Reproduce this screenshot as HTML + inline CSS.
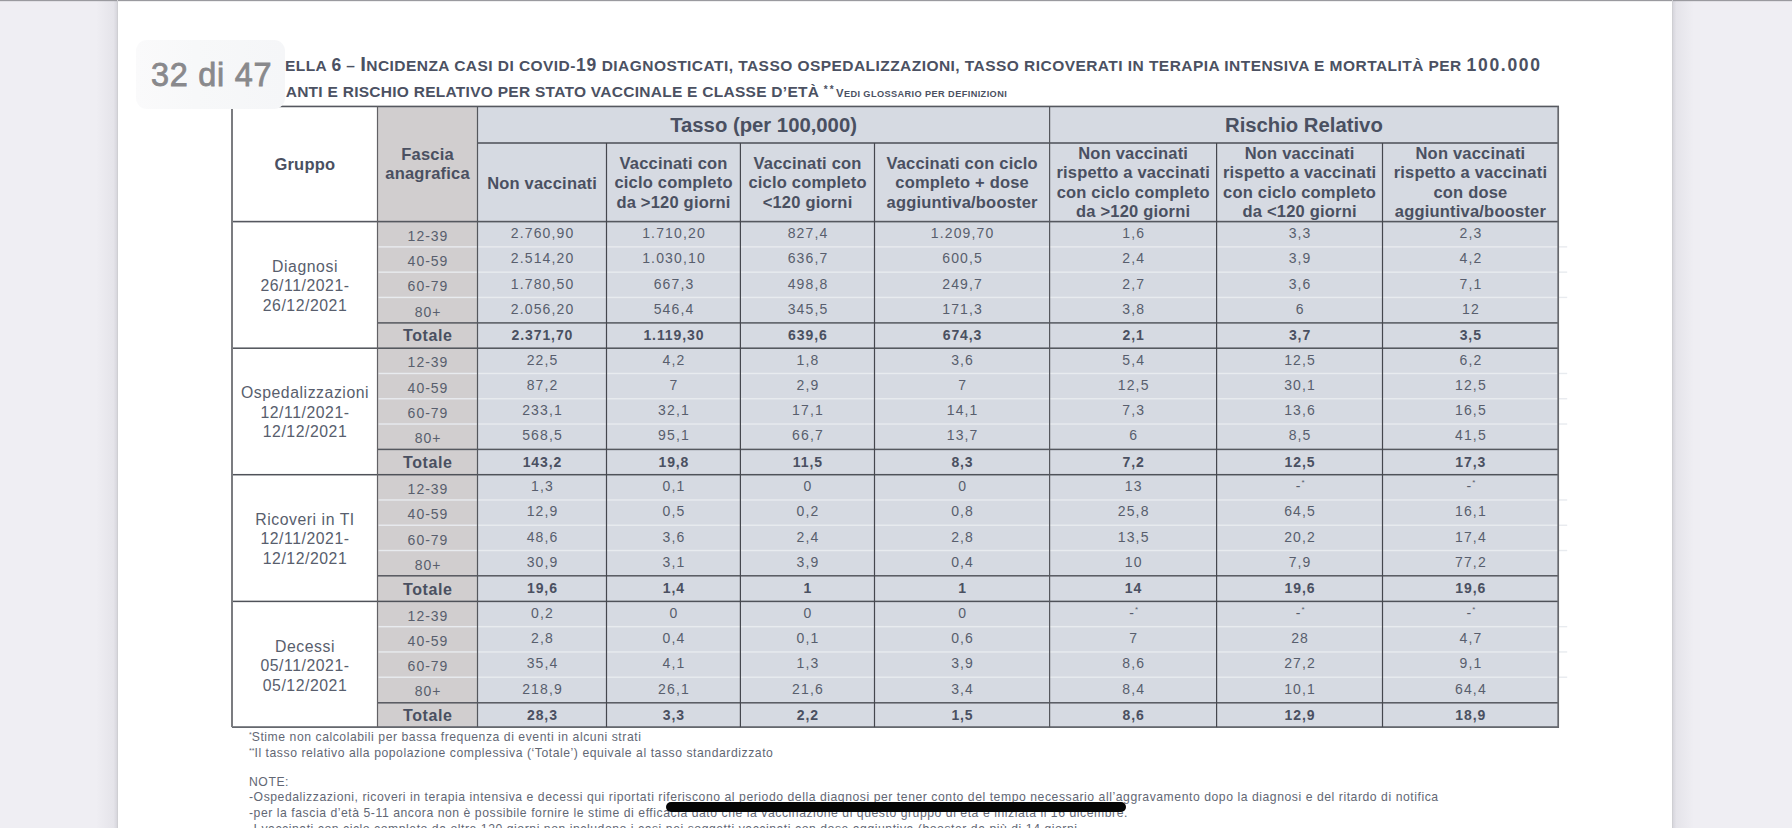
<!DOCTYPE html>
<html><head><meta charset="utf-8">
<style>
html,body{margin:0;padding:0;}
body{width:1792px;height:828px;overflow:hidden;position:relative;background:#efeef3;font-family:"Liberation Sans",sans-serif;}
.a{position:absolute;}
.t{position:absolute;text-align:center;white-space:nowrap;color:#585e6d;}
.hb,.hh,.ab,.nb{font-weight:bold;color:#4a5061;}
.hb{font-size:16.5px;line-height:19.5px;letter-spacing:0.2px;}
.hh{font-size:20.3px;line-height:24px;letter-spacing:0.0px;}
.gl{font-size:15.8px;line-height:19.5px;letter-spacing:0.55px;}
.ag{font-size:14px;line-height:20px;letter-spacing:1.0px;}
.ab{font-size:16px;line-height:20px;letter-spacing:0.6px;}
.nm{font-size:14px;line-height:20px;letter-spacing:1.14px;}
.nb{font-size:14px;line-height:20px;letter-spacing:0.9px;}
sup{font-size:8px;vertical-align:6px;line-height:0;letter-spacing:0;}
#page{position:absolute;left:118px;top:0;width:1554px;height:828px;background:#fff;}
#shl{position:absolute;left:96px;top:0;width:22px;height:828px;background:linear-gradient(to right,rgba(0,0,0,0),rgba(40,40,60,0.05) 80%,rgba(40,40,60,0.14));}
#shr{position:absolute;left:1672px;top:0;width:22px;height:828px;background:linear-gradient(to left,rgba(0,0,0,0),rgba(40,40,60,0.05) 80%,rgba(40,40,60,0.14));}
#topline{position:absolute;left:0;top:0;width:1792px;height:1px;background:#9a9a9f;}
#topline2{position:absolute;left:0;top:1px;width:1792px;height:1px;background:rgba(120,120,130,0.12);}
#edgel{position:absolute;left:117px;top:0;width:1px;height:828px;background:#cfcfd3;}
#edger{position:absolute;left:1672px;top:0;width:1px;height:828px;background:#cfcfd3;}
.ttl{position:absolute;left:248.7px;white-space:nowrap;font-weight:bold;color:#4b5162;font-size:15.5px;line-height:20px;letter-spacing:0.27px;}
#t1{letter-spacing:0.45px;}
.ttl .L{font-size:20.5px;line-height:0;}
.ttl .L2{font-size:17.5px;letter-spacing:1.7px;line-height:0;}
.ttl .s{font-size:9.2px;letter-spacing:0.4px;}
.ttl .s .L{font-size:11.3px;line-height:0;}
.ast{font-size:10px;vertical-align:4.5px;line-height:0;letter-spacing:2.2px;}
#ov{position:absolute;left:136px;top:40px;width:148.8px;height:69px;border-radius:11px;background:linear-gradient(to right,#fafafb,#f7f8f9 40%,#f5f6f8);}
#ovt{position:absolute;left:151px;top:55.07px;line-height:40px;font-size:32.4px;color:#89898c;-webkit-text-stroke:0.8px #89898c;letter-spacing:0.75px;white-space:nowrap;}
.ft{position:absolute;left:249px;white-space:nowrap;font-size:12.2px;line-height:15px;letter-spacing:0.55px;color:#626774;}
.ft sup{font-size:7px;vertical-align:4px;}
#bar{position:absolute;left:666px;top:801.5px;width:460px;height:10px;border-radius:5px;background:#050505;}
</style></head><body>
<div id="shl"></div><div id="shr"></div>
<div id="page"></div>
<div id="topline"></div><div id="topline2"></div><div id="edgel"></div><div id="edger"></div>
<div class="ttl" id="t1" style="top:55.63px"><span style="visibility:hidden"><span class="L">T</span>AB</span>ELLA <span class="L2" style="letter-spacing:0.4px">6</span> – <span class="L">I</span>NCIDENZA CASI DI COVID-<span class="L2" style="letter-spacing:0.8px">19</span> DIAGNOSTICATI, TASSO OSPEDALIZZAZIONI, TASSO RICOVERATI IN TERAPIA INTENSIVA E MORTALITÀ PER <span class="L2">100.000</span></div>
<div class="ttl" style="top:82.03px;left:249.6px"><span style="visibility:hidden">ABIT</span>ANTI E RISCHIO RELATIVO PER STATO VACCINALE E CLASSE D’ETÀ <span class="s"><span class="ast">**</span><span class="L">V</span>EDI GLOSSARIO PER DEFINIZIONI</span></div>
<svg class="a" style="left:0;top:0" width="1792" height="828" viewBox="0 0 1792 828"><rect x="377.50" y="106.45" width="100.00" height="620.65" fill="#d1cecf"/><rect x="477.50" y="106.45" width="1080.70" height="620.65" fill="#d6dae2"/><rect x="378.50" y="246.18" width="1188.70" height="1.40" fill="#e8ebef"/><rect x="378.50" y="271.45" width="1188.70" height="1.40" fill="#e8ebef"/><rect x="378.50" y="296.72" width="1188.70" height="1.40" fill="#e8ebef"/><rect x="378.50" y="372.77" width="1188.70" height="1.40" fill="#e8ebef"/><rect x="378.50" y="398.05" width="1188.70" height="1.40" fill="#e8ebef"/><rect x="378.50" y="423.32" width="1188.70" height="1.40" fill="#e8ebef"/><rect x="378.50" y="499.27" width="1188.70" height="1.40" fill="#e8ebef"/><rect x="378.50" y="524.55" width="1188.70" height="1.40" fill="#e8ebef"/><rect x="378.50" y="549.82" width="1188.70" height="1.40" fill="#e8ebef"/><rect x="378.50" y="625.97" width="1188.70" height="1.40" fill="#e8ebef"/><rect x="378.50" y="651.25" width="1188.70" height="1.40" fill="#e8ebef"/><rect x="378.50" y="676.52" width="1188.70" height="1.40" fill="#e8ebef"/><rect x="232.00" y="105.65" width="1327.00" height="1.60" fill="#55585f"/><rect x="477.50" y="142.20" width="1080.70" height="1.60" fill="#55585f"/><rect x="232.00" y="220.80" width="1326.20" height="1.60" fill="#55585f"/><rect x="232.00" y="347.45" width="1326.20" height="1.50" fill="#4f5259"/><rect x="232.00" y="473.95" width="1326.20" height="1.50" fill="#4f5259"/><rect x="232.00" y="600.65" width="1326.20" height="1.50" fill="#4f5259"/><rect x="377.50" y="322.15" width="1180.70" height="1.50" fill="#55585f"/><rect x="377.50" y="448.65" width="1180.70" height="1.50" fill="#55585f"/><rect x="377.50" y="575.05" width="1180.70" height="1.50" fill="#55585f"/><rect x="377.50" y="702.05" width="1180.70" height="1.50" fill="#55585f"/><rect x="232.00" y="726.30" width="1327.00" height="1.60" fill="#55585f"/><rect x="231.00" y="106.45" width="2.00" height="620.65" fill="#7b7c80"/><rect x="1557.35" y="106.45" width="1.70" height="621.45" fill="#66686d"/><rect x="376.90" y="106.45" width="1.20" height="620.65" fill="#626165"/><rect x="476.90" y="106.45" width="1.20" height="620.65" fill="#55575d"/><rect x="1049.00" y="106.45" width="1.20" height="620.65" fill="#55575d"/><rect x="605.90" y="143.00" width="1.20" height="584.10" fill="#45474e"/><rect x="739.80" y="143.00" width="1.20" height="584.10" fill="#45474e"/><rect x="873.90" y="143.00" width="1.20" height="584.10" fill="#45474e"/><rect x="1216.00" y="143.00" width="1.20" height="584.10" fill="#45474e"/><rect x="1381.90" y="143.00" width="1.20" height="584.10" fill="#45474e"/></svg>
<div class="t hb" style="left:232.10px;top:154.53px;width:145.50px;">Gruppo</div>
<div class="t hb" style="left:377.60px;top:145.13px;width:100.00px;">Fascia</div>
<div class="t hb" style="left:377.60px;top:164.13px;width:100.00px;">anagrafica</div>
<div class="t hh" style="left:477.50px;top:112.57px;width:572.10px;">Tasso (per 100,000)</div>
<div class="t hh" style="left:1049.60px;top:112.57px;width:508.60px;">Rischio Relativo</div>
<div class="t hb" style="left:477.60px;top:173.53px;width:129.00px;">Non vaccinati</div>
<div class="t hb" style="left:606.60px;top:153.73px;width:133.90px;">Vaccinati con</div>
<div class="t hb" style="left:606.60px;top:173.33px;width:133.90px;">ciclo completo</div>
<div class="t hb" style="left:606.60px;top:192.93px;width:133.90px;">da &gt;120 giorni</div>
<div class="t hb" style="left:740.50px;top:153.73px;width:134.10px;">Vaccinati con</div>
<div class="t hb" style="left:740.50px;top:173.33px;width:134.10px;">ciclo completo</div>
<div class="t hb" style="left:740.50px;top:192.93px;width:134.10px;">&lt;120 giorni</div>
<div class="t hb" style="left:874.60px;top:153.73px;width:175.10px;">Vaccinati con ciclo</div>
<div class="t hb" style="left:874.60px;top:173.33px;width:175.10px;">completo + dose</div>
<div class="t hb" style="left:874.60px;top:192.93px;width:175.10px;">aggiuntiva/booster</div>
<div class="t hb" style="left:1049.70px;top:143.93px;width:167.00px;">Non vaccinati</div>
<div class="t hb" style="left:1049.70px;top:163.33px;width:167.00px;">rispetto a vaccinati</div>
<div class="t hb" style="left:1049.70px;top:182.73px;width:167.00px;">con ciclo completo</div>
<div class="t hb" style="left:1049.70px;top:202.13px;width:167.00px;">da &gt;120 giorni</div>
<div class="t hb" style="left:1216.70px;top:143.93px;width:165.90px;">Non vaccinati</div>
<div class="t hb" style="left:1216.70px;top:163.33px;width:165.90px;">rispetto a vaccinati</div>
<div class="t hb" style="left:1216.70px;top:182.73px;width:165.90px;">con ciclo completo</div>
<div class="t hb" style="left:1216.70px;top:202.13px;width:165.90px;">da &lt;120 giorni</div>
<div class="t hb" style="left:1382.60px;top:143.93px;width:175.70px;">Non vaccinati</div>
<div class="t hb" style="left:1382.60px;top:163.33px;width:175.70px;">rispetto a vaccinati</div>
<div class="t hb" style="left:1382.60px;top:182.73px;width:175.70px;">con dose</div>
<div class="t hb" style="left:1382.60px;top:202.13px;width:175.70px;">aggiuntiva/booster</div>
<div class="t gl" style="left:232.28px;top:256.88px;width:145.50px;">Diagnosi</div>
<div class="t gl" style="left:232.28px;top:276.38px;width:145.50px;">26/11/2021-</div>
<div class="t gl" style="left:232.28px;top:295.88px;width:145.50px;">26/12/2021</div>
<div class="t ag" style="left:378.00px;top:225.85px;width:100.00px;">12-39</div>
<div class="t nm" style="left:478.07px;top:223.05px;width:129.00px;">2.760,90</div>
<div class="t nm" style="left:607.07px;top:223.05px;width:133.90px;">1.710,20</div>
<div class="t nm" style="left:740.97px;top:223.05px;width:134.10px;">827,4</div>
<div class="t nm" style="left:875.07px;top:223.05px;width:175.10px;">1.209,70</div>
<div class="t nm" style="left:1050.17px;top:223.05px;width:167.00px;">1,6</div>
<div class="t nm" style="left:1217.17px;top:223.05px;width:165.90px;">3,3</div>
<div class="t nm" style="left:1383.07px;top:223.05px;width:175.70px;">2,3</div>
<div class="t ag" style="left:378.00px;top:251.12px;width:100.00px;">40-59</div>
<div class="t nm" style="left:478.07px;top:248.32px;width:129.00px;">2.514,20</div>
<div class="t nm" style="left:607.07px;top:248.32px;width:133.90px;">1.030,10</div>
<div class="t nm" style="left:740.97px;top:248.32px;width:134.10px;">636,7</div>
<div class="t nm" style="left:875.07px;top:248.32px;width:175.10px;">600,5</div>
<div class="t nm" style="left:1050.17px;top:248.32px;width:167.00px;">2,4</div>
<div class="t nm" style="left:1217.17px;top:248.32px;width:165.90px;">3,9</div>
<div class="t nm" style="left:1383.07px;top:248.32px;width:175.70px;">4,2</div>
<div class="t ag" style="left:378.00px;top:276.40px;width:100.00px;">60-79</div>
<div class="t nm" style="left:478.07px;top:273.60px;width:129.00px;">1.780,50</div>
<div class="t nm" style="left:607.07px;top:273.60px;width:133.90px;">667,3</div>
<div class="t nm" style="left:740.97px;top:273.60px;width:134.10px;">498,8</div>
<div class="t nm" style="left:875.07px;top:273.60px;width:175.10px;">249,7</div>
<div class="t nm" style="left:1050.17px;top:273.60px;width:167.00px;">2,7</div>
<div class="t nm" style="left:1217.17px;top:273.60px;width:165.90px;">3,6</div>
<div class="t nm" style="left:1383.07px;top:273.60px;width:175.70px;">7,1</div>
<div class="t ag" style="left:378.00px;top:301.67px;width:100.00px;">80+</div>
<div class="t nm" style="left:478.07px;top:298.87px;width:129.00px;">2.056,20</div>
<div class="t nm" style="left:607.07px;top:298.87px;width:133.90px;">546,4</div>
<div class="t nm" style="left:740.97px;top:298.87px;width:134.10px;">345,5</div>
<div class="t nm" style="left:875.07px;top:298.87px;width:175.10px;">171,3</div>
<div class="t nm" style="left:1050.17px;top:298.87px;width:167.00px;">3,8</div>
<div class="t nm" style="left:1217.17px;top:298.87px;width:165.90px;">6</div>
<div class="t nm" style="left:1383.07px;top:298.87px;width:175.70px;">12</div>
<div class="t ab" style="left:377.80px;top:326.46px;width:100.00px;">Totale</div>
<div class="t nb" style="left:477.95px;top:325.25px;width:129.00px;">2.371,70</div>
<div class="t nb" style="left:606.95px;top:325.25px;width:133.90px;">1.119,30</div>
<div class="t nb" style="left:740.85px;top:325.25px;width:134.10px;">639,6</div>
<div class="t nb" style="left:874.95px;top:325.25px;width:175.10px;">674,3</div>
<div class="t nb" style="left:1050.05px;top:325.25px;width:167.00px;">2,1</div>
<div class="t nb" style="left:1217.05px;top:325.25px;width:165.90px;">3,7</div>
<div class="t nb" style="left:1382.95px;top:325.25px;width:175.70px;">3,5</div>
<div class="t gl" style="left:232.28px;top:383.48px;width:145.50px;">Ospedalizzazioni</div>
<div class="t gl" style="left:232.28px;top:402.98px;width:145.50px;">12/11/2021-</div>
<div class="t gl" style="left:232.28px;top:422.48px;width:145.50px;">12/12/2021</div>
<div class="t ag" style="left:378.00px;top:352.45px;width:100.00px;">12-39</div>
<div class="t nm" style="left:478.07px;top:349.65px;width:129.00px;">22,5</div>
<div class="t nm" style="left:607.07px;top:349.65px;width:133.90px;">4,2</div>
<div class="t nm" style="left:740.97px;top:349.65px;width:134.10px;">1,8</div>
<div class="t nm" style="left:875.07px;top:349.65px;width:175.10px;">3,6</div>
<div class="t nm" style="left:1050.17px;top:349.65px;width:167.00px;">5,4</div>
<div class="t nm" style="left:1217.17px;top:349.65px;width:165.90px;">12,5</div>
<div class="t nm" style="left:1383.07px;top:349.65px;width:175.70px;">6,2</div>
<div class="t ag" style="left:378.00px;top:377.72px;width:100.00px;">40-59</div>
<div class="t nm" style="left:478.07px;top:374.92px;width:129.00px;">87,2</div>
<div class="t nm" style="left:607.07px;top:374.92px;width:133.90px;">7</div>
<div class="t nm" style="left:740.97px;top:374.92px;width:134.10px;">2,9</div>
<div class="t nm" style="left:875.07px;top:374.92px;width:175.10px;">7</div>
<div class="t nm" style="left:1050.17px;top:374.92px;width:167.00px;">12,5</div>
<div class="t nm" style="left:1217.17px;top:374.92px;width:165.90px;">30,1</div>
<div class="t nm" style="left:1383.07px;top:374.92px;width:175.70px;">12,5</div>
<div class="t ag" style="left:378.00px;top:403.00px;width:100.00px;">60-79</div>
<div class="t nm" style="left:478.07px;top:400.20px;width:129.00px;">233,1</div>
<div class="t nm" style="left:607.07px;top:400.20px;width:133.90px;">32,1</div>
<div class="t nm" style="left:740.97px;top:400.20px;width:134.10px;">17,1</div>
<div class="t nm" style="left:875.07px;top:400.20px;width:175.10px;">14,1</div>
<div class="t nm" style="left:1050.17px;top:400.20px;width:167.00px;">7,3</div>
<div class="t nm" style="left:1217.17px;top:400.20px;width:165.90px;">13,6</div>
<div class="t nm" style="left:1383.07px;top:400.20px;width:175.70px;">16,5</div>
<div class="t ag" style="left:378.00px;top:428.27px;width:100.00px;">80+</div>
<div class="t nm" style="left:478.07px;top:425.47px;width:129.00px;">568,5</div>
<div class="t nm" style="left:607.07px;top:425.47px;width:133.90px;">95,1</div>
<div class="t nm" style="left:740.97px;top:425.47px;width:134.10px;">66,7</div>
<div class="t nm" style="left:875.07px;top:425.47px;width:175.10px;">13,7</div>
<div class="t nm" style="left:1050.17px;top:425.47px;width:167.00px;">6</div>
<div class="t nm" style="left:1217.17px;top:425.47px;width:165.90px;">8,5</div>
<div class="t nm" style="left:1383.07px;top:425.47px;width:175.70px;">41,5</div>
<div class="t ab" style="left:377.80px;top:453.06px;width:100.00px;">Totale</div>
<div class="t nb" style="left:477.95px;top:451.85px;width:129.00px;">143,2</div>
<div class="t nb" style="left:606.95px;top:451.85px;width:133.90px;">19,8</div>
<div class="t nb" style="left:740.85px;top:451.85px;width:134.10px;">11,5</div>
<div class="t nb" style="left:874.95px;top:451.85px;width:175.10px;">8,3</div>
<div class="t nb" style="left:1050.05px;top:451.85px;width:167.00px;">7,2</div>
<div class="t nb" style="left:1217.05px;top:451.85px;width:165.90px;">12,5</div>
<div class="t nb" style="left:1382.95px;top:451.85px;width:175.70px;">17,3</div>
<div class="t gl" style="left:232.28px;top:509.98px;width:145.50px;">Ricoveri in TI</div>
<div class="t gl" style="left:232.28px;top:529.48px;width:145.50px;">12/11/2021-</div>
<div class="t gl" style="left:232.28px;top:548.98px;width:145.50px;">12/12/2021</div>
<div class="t ag" style="left:378.00px;top:478.95px;width:100.00px;">12-39</div>
<div class="t nm" style="left:478.07px;top:476.15px;width:129.00px;">1,3</div>
<div class="t nm" style="left:607.07px;top:476.15px;width:133.90px;">0,1</div>
<div class="t nm" style="left:740.97px;top:476.15px;width:134.10px;">0</div>
<div class="t nm" style="left:875.07px;top:476.15px;width:175.10px;">0</div>
<div class="t nm" style="left:1050.17px;top:476.15px;width:167.00px;">13</div>
<div class="t nm" style="left:1217.17px;top:476.15px;width:165.90px;">-<sup>*</sup></div>
<div class="t nm" style="left:1383.07px;top:476.15px;width:175.70px;">-<sup>*</sup></div>
<div class="t ag" style="left:378.00px;top:504.22px;width:100.00px;">40-59</div>
<div class="t nm" style="left:478.07px;top:501.42px;width:129.00px;">12,9</div>
<div class="t nm" style="left:607.07px;top:501.42px;width:133.90px;">0,5</div>
<div class="t nm" style="left:740.97px;top:501.42px;width:134.10px;">0,2</div>
<div class="t nm" style="left:875.07px;top:501.42px;width:175.10px;">0,8</div>
<div class="t nm" style="left:1050.17px;top:501.42px;width:167.00px;">25,8</div>
<div class="t nm" style="left:1217.17px;top:501.42px;width:165.90px;">64,5</div>
<div class="t nm" style="left:1383.07px;top:501.42px;width:175.70px;">16,1</div>
<div class="t ag" style="left:378.00px;top:529.50px;width:100.00px;">60-79</div>
<div class="t nm" style="left:478.07px;top:526.70px;width:129.00px;">48,6</div>
<div class="t nm" style="left:607.07px;top:526.70px;width:133.90px;">3,6</div>
<div class="t nm" style="left:740.97px;top:526.70px;width:134.10px;">2,4</div>
<div class="t nm" style="left:875.07px;top:526.70px;width:175.10px;">2,8</div>
<div class="t nm" style="left:1050.17px;top:526.70px;width:167.00px;">13,5</div>
<div class="t nm" style="left:1217.17px;top:526.70px;width:165.90px;">20,2</div>
<div class="t nm" style="left:1383.07px;top:526.70px;width:175.70px;">17,4</div>
<div class="t ag" style="left:378.00px;top:554.77px;width:100.00px;">80+</div>
<div class="t nm" style="left:478.07px;top:551.97px;width:129.00px;">30,9</div>
<div class="t nm" style="left:607.07px;top:551.97px;width:133.90px;">3,1</div>
<div class="t nm" style="left:740.97px;top:551.97px;width:134.10px;">3,9</div>
<div class="t nm" style="left:875.07px;top:551.97px;width:175.10px;">0,4</div>
<div class="t nm" style="left:1050.17px;top:551.97px;width:167.00px;">10</div>
<div class="t nm" style="left:1217.17px;top:551.97px;width:165.90px;">7,9</div>
<div class="t nm" style="left:1383.07px;top:551.97px;width:175.70px;">77,2</div>
<div class="t ab" style="left:377.80px;top:579.56px;width:100.00px;">Totale</div>
<div class="t nb" style="left:477.95px;top:578.35px;width:129.00px;">19,6</div>
<div class="t nb" style="left:606.95px;top:578.35px;width:133.90px;">1,4</div>
<div class="t nb" style="left:740.85px;top:578.35px;width:134.10px;">1</div>
<div class="t nb" style="left:874.95px;top:578.35px;width:175.10px;">1</div>
<div class="t nb" style="left:1050.05px;top:578.35px;width:167.00px;">14</div>
<div class="t nb" style="left:1217.05px;top:578.35px;width:165.90px;">19,6</div>
<div class="t nb" style="left:1382.95px;top:578.35px;width:175.70px;">19,6</div>
<div class="t gl" style="left:232.28px;top:636.68px;width:145.50px;">Decessi</div>
<div class="t gl" style="left:232.28px;top:656.18px;width:145.50px;">05/11/2021-</div>
<div class="t gl" style="left:232.28px;top:675.68px;width:145.50px;">05/12/2021</div>
<div class="t ag" style="left:378.00px;top:605.65px;width:100.00px;">12-39</div>
<div class="t nm" style="left:478.07px;top:602.85px;width:129.00px;">0,2</div>
<div class="t nm" style="left:607.07px;top:602.85px;width:133.90px;">0</div>
<div class="t nm" style="left:740.97px;top:602.85px;width:134.10px;">0</div>
<div class="t nm" style="left:875.07px;top:602.85px;width:175.10px;">0</div>
<div class="t nm" style="left:1050.17px;top:602.85px;width:167.00px;">-<sup>*</sup></div>
<div class="t nm" style="left:1217.17px;top:602.85px;width:165.90px;">-<sup>*</sup></div>
<div class="t nm" style="left:1383.07px;top:602.85px;width:175.70px;">-<sup>*</sup></div>
<div class="t ag" style="left:378.00px;top:630.92px;width:100.00px;">40-59</div>
<div class="t nm" style="left:478.07px;top:628.12px;width:129.00px;">2,8</div>
<div class="t nm" style="left:607.07px;top:628.12px;width:133.90px;">0,4</div>
<div class="t nm" style="left:740.97px;top:628.12px;width:134.10px;">0,1</div>
<div class="t nm" style="left:875.07px;top:628.12px;width:175.10px;">0,6</div>
<div class="t nm" style="left:1050.17px;top:628.12px;width:167.00px;">7</div>
<div class="t nm" style="left:1217.17px;top:628.12px;width:165.90px;">28</div>
<div class="t nm" style="left:1383.07px;top:628.12px;width:175.70px;">4,7</div>
<div class="t ag" style="left:378.00px;top:656.20px;width:100.00px;">60-79</div>
<div class="t nm" style="left:478.07px;top:653.40px;width:129.00px;">35,4</div>
<div class="t nm" style="left:607.07px;top:653.40px;width:133.90px;">4,1</div>
<div class="t nm" style="left:740.97px;top:653.40px;width:134.10px;">1,3</div>
<div class="t nm" style="left:875.07px;top:653.40px;width:175.10px;">3,9</div>
<div class="t nm" style="left:1050.17px;top:653.40px;width:167.00px;">8,6</div>
<div class="t nm" style="left:1217.17px;top:653.40px;width:165.90px;">27,2</div>
<div class="t nm" style="left:1383.07px;top:653.40px;width:175.70px;">9,1</div>
<div class="t ag" style="left:378.00px;top:681.47px;width:100.00px;">80+</div>
<div class="t nm" style="left:478.07px;top:678.67px;width:129.00px;">218,9</div>
<div class="t nm" style="left:607.07px;top:678.67px;width:133.90px;">26,1</div>
<div class="t nm" style="left:740.97px;top:678.67px;width:134.10px;">21,6</div>
<div class="t nm" style="left:875.07px;top:678.67px;width:175.10px;">3,4</div>
<div class="t nm" style="left:1050.17px;top:678.67px;width:167.00px;">8,4</div>
<div class="t nm" style="left:1217.17px;top:678.67px;width:165.90px;">10,1</div>
<div class="t nm" style="left:1383.07px;top:678.67px;width:175.70px;">64,4</div>
<div class="t ab" style="left:377.80px;top:706.26px;width:100.00px;">Totale</div>
<div class="t nb" style="left:477.95px;top:705.05px;width:129.00px;">28,3</div>
<div class="t nb" style="left:606.95px;top:705.05px;width:133.90px;">3,3</div>
<div class="t nb" style="left:740.85px;top:705.05px;width:134.10px;">2,2</div>
<div class="t nb" style="left:874.95px;top:705.05px;width:175.10px;">1,5</div>
<div class="t nb" style="left:1050.05px;top:705.05px;width:167.00px;">8,6</div>
<div class="t nb" style="left:1217.05px;top:705.05px;width:165.90px;">12,9</div>
<div class="t nb" style="left:1382.95px;top:705.05px;width:175.70px;">18,9</div>
<div class="ft" style="top:729.77px"><sup>*</sup>Stime non calcolabili per bassa frequenza di eventi in alcuni strati</div>
<div class="ft" style="top:745.57px"><sup>**</sup>Il tasso relativo alla popolazione complessiva (‘Totale’) equivale al tasso standardizzato</div>
<div class="ft" style="top:774.87px">NOTE:</div>
<div class="ft" style="top:790.27px">-Ospedalizzazioni, ricoveri in terapia intensiva e decessi qui riportati riferiscono al periodo della diagnosi per tener conto del tempo necessario all’aggravamento dopo la diagnosi e del ritardo di notifica</div>
<div class="ft" style="top:805.87px">-per la fascia d’età 5-11 ancora non è possibile fornire le stime di efficacia dato che la vaccinazione di questo gruppo di età è iniziata il 16 dicembre.</div>
<div class="ft" style="top:821.57px">-I vaccinati con ciclo completo da oltre 120 giorni non includono i casi nei soggetti vaccinati con dose aggiuntiva (booster da più di 14 giorni</div>
<div id="ov"></div>
<div id="ovt">32 di 47</div>
<div id="bar"></div>
</body></html>
